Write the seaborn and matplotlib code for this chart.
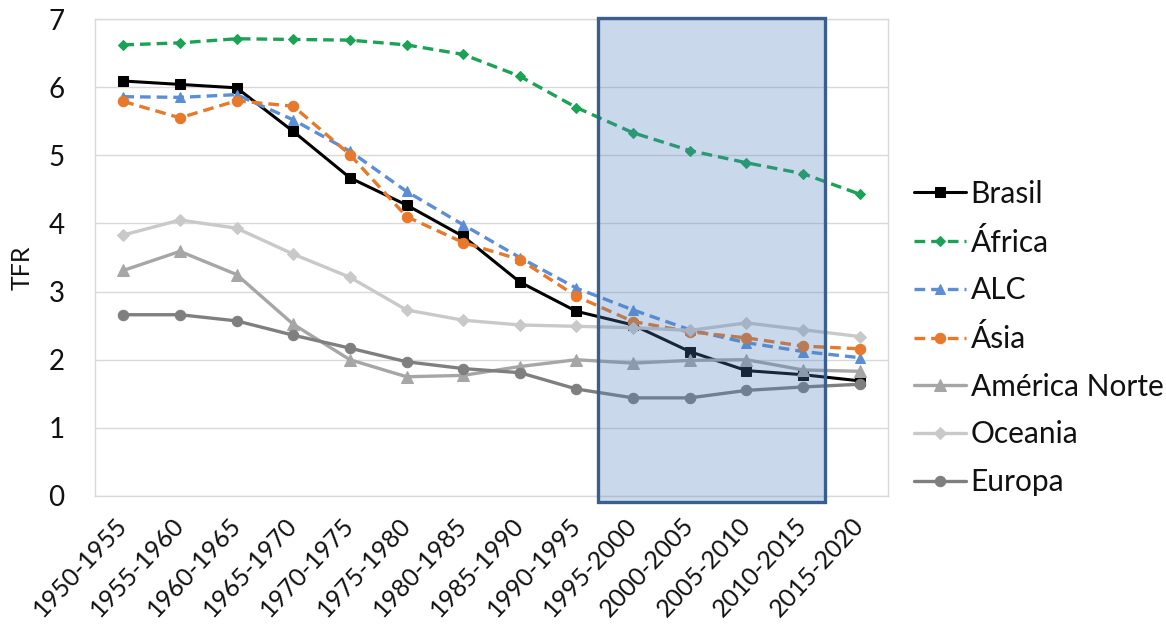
import matplotlib
matplotlib.use("Agg")
import matplotlib.pyplot as plt
import seaborn as sns
import numpy as np
from matplotlib.patches import Rectangle
from matplotlib.ticker import FixedLocator

periods = ['1950-1955', '1955-1960', '1960-1965', '1965-1970', '1970-1975',
           '1975-1980', '1980-1985', '1985-1990', '1990-1995', '1995-2000',
           '2000-2005', '2005-2010', '2010-2015', '2015-2020']

brasil = [6.09, 6.04, 5.99, 5.35, 4.67, 4.27, 3.81, 3.14, 2.71, 2.51, 2.12, 1.84, 1.78, 1.69]
africa = [6.62, 6.65, 6.71, 6.70, 6.69, 6.62, 6.48, 6.16, 5.70, 5.33, 5.07, 4.89, 4.73, 4.43]
alc = [5.86, 5.85, 5.89, 5.52, 5.06, 4.47, 3.98, 3.50, 3.05, 2.73, 2.44, 2.25, 2.12, 2.03]
asia = [5.79, 5.55, 5.80, 5.72, 5.01, 4.10, 3.72, 3.47, 2.93, 2.56, 2.41, 2.32, 2.20, 2.16]
america_norte = [3.31, 3.59, 3.25, 2.52, 2.00, 1.75, 1.77, 1.90, 2.00, 1.95, 1.99, 2.00, 1.85, 1.83]
oceania = [3.83, 4.05, 3.93, 3.55, 3.21, 2.73, 2.58, 2.51, 2.49, 2.47, 2.43, 2.54, 2.44, 2.34]
europa = [2.66, 2.66, 2.57, 2.36, 2.17, 1.97, 1.87, 1.81, 1.57, 1.44, 1.44, 1.55, 1.60, 1.64]

series_names = ['Brasil', 'África', 'ALC', 'Ásia', 'América Norte', 'Oceania', 'Europa']
series_values = [brasil, africa, alc, asia, america_norte, oceania, europa]

highlight_start = '1995-2000'
highlight_end = '2010-2015'
y_max = 7

styles = {
    'Brasil':        dict(color='#000000', marker='s', ms=7,   ls='-',  lw=2.2),
    'África':        dict(color='#1ba255', marker='D', ms=5.5, ls='--', lw=2.4),
    'ALC':           dict(color='#5b8ed6', marker='^', ms=7.5, ls='--', lw=2.4),
    'Ásia':          dict(color='#e8782a', marker='o', ms=7.5, ls='--', lw=2.4),
    'América Norte': dict(color='#a6a6a6', marker='^', ms=8,   ls='-',  lw=2.4),
    'Oceania':       dict(color='#c9c9c9', marker='D', ms=6.5, ls='-',  lw=2.4),
    'Europa':        dict(color='#7f7f7f', marker='o', ms=7.5, ls='-',  lw=2.4),
}

sns.set_theme(style='white')
plt.rcParams['font.family'] = ['Lato', 'DejaVu Sans']

fig = plt.figure(figsize=(11.66, 6.31), dpi=100)
ax = fig.add_axes([95/1166, 1-496/631, 793/1166, 477/631])

for name, vals in zip(series_names, series_values):
    st = styles[name]
    sns.lineplot(x=periods, y=vals, ax=ax, sort=False, label=name,
                 color=st['color'], marker=st['marker'], markersize=st['ms'],
                 markeredgecolor=st['color'], linewidth=st['lw'])
    line = ax.get_lines()[-1]
    if st['ls'] == '--':
        line.set_dashes((3.2, 1.8))

n = len(periods)
ax.set_xlim(-0.5, n - 0.5)
ax.set_ylim(0, y_max)
ax.set_yticks(range(0, y_max + 1))
ax.tick_params(axis='y', length=0, pad=22, labelsize=20, labelcolor='#111111')
ax.set_xticks(range(n))
ax.set_xticklabels(periods, rotation=47, ha='right', va='center',
                   rotation_mode='anchor', fontsize=18, color='#111111')
ax.tick_params(axis='x', which='major', length=0, pad=18)
ax.xaxis.set_minor_locator(FixedLocator(np.arange(-0.5, n, 1.0)))
ax.tick_params(axis='x', which='minor', length=6, width=1, color='#d0d0d0',
               direction='inout')

ax.grid(axis='y', color='#d9d9d9', linewidth=1)
ax.set_axisbelow(True)
for side in ['left', 'bottom', 'top', 'right']:
    ax.spines[side].set_color('#d9d9d9')
    ax.spines[side].set_linewidth(1)

ax.set_xlabel('')
ax.set_ylabel('TFR', fontsize=18, color='#111111')
ax.yaxis.label.set_va('center')
ax.yaxis.set_label_coords((22 - 95) / 793, 0.478)

# highlighted period box
x0 = periods.index(highlight_start) - 0.62
x1 = periods.index(highlight_end) + 0.39
rect = Rectangle((x0, -0.09), x1 - x0, y_max + 0.1, facecolor=(0.31, 0.51, 0.74, 0.3),
                 edgecolor='#3b5f8c', linewidth=2.4, zorder=5, clip_on=False)
ax.add_patch(rect)

leg = ax.legend(loc='center left', bbox_to_anchor=(902/1166, 1-338/631),
                bbox_transform=fig.transFigure, frameon=False, fontsize=21.5,
                handlelength=1.75, handletextpad=0.15, labelspacing=0.66,
                borderaxespad=0, numpoints=1)
for txt in leg.get_texts():
    txt.set_color('#111111')

fig.savefig('out.png', dpi=100)
